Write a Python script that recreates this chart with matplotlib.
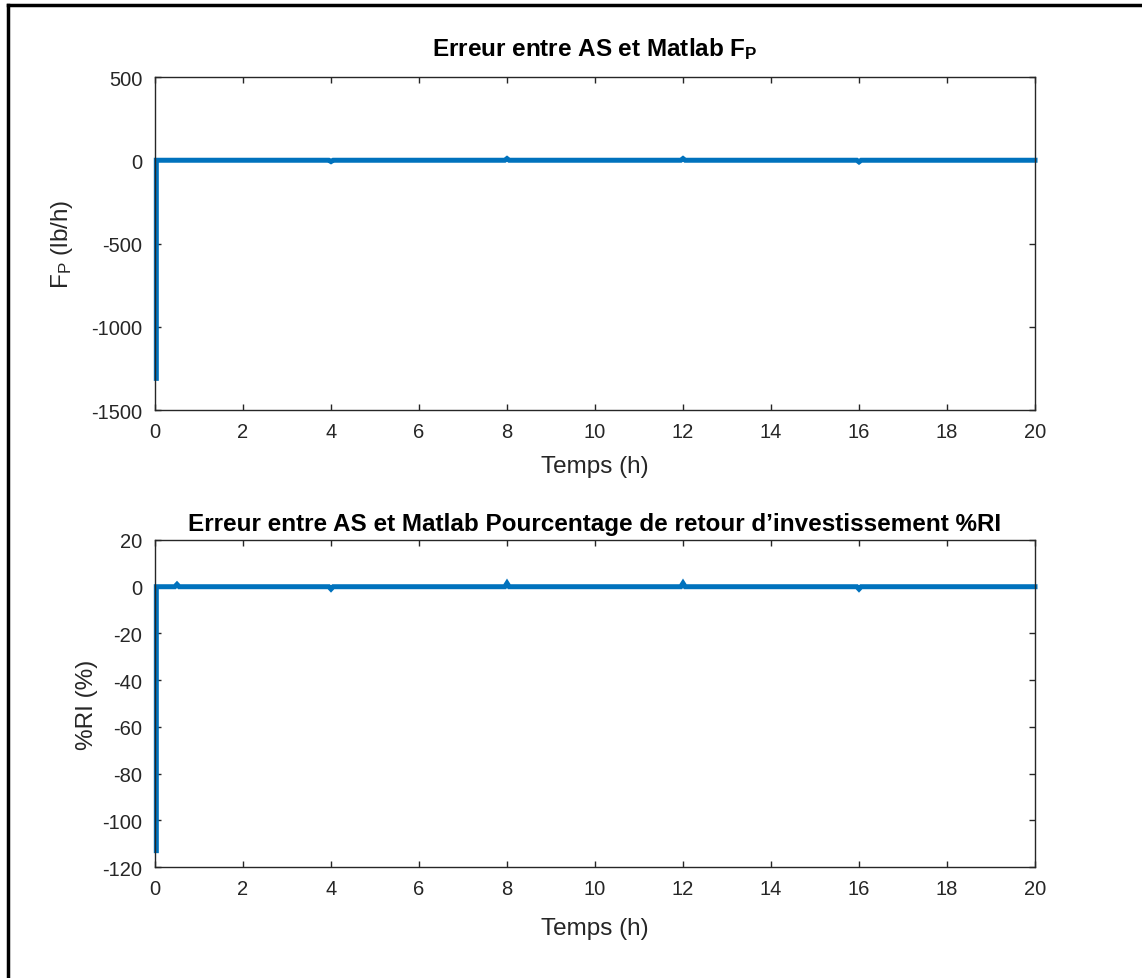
import matplotlib
matplotlib.use('Agg')
from matplotlib import pyplot as plt
from matplotlib.lines import Line2D

plt.rcParams['font.family'] = ['Liberation Sans', 'DejaVu Sans']
plt.rcParams['mathtext.fontset'] = 'custom'
plt.rcParams['mathtext.rm'] = 'Liberation Sans'
plt.rcParams['mathtext.it'] = 'Liberation Sans'
plt.rcParams['mathtext.bf'] = 'Liberation Sans:bold'
plt.rcParams['axes.unicode_minus'] = False

# erreur sur F_P (lb/h)
time_fp = [0.03, 0.03, 3.95, 4, 4.05, 7.95, 8, 8.05, 11.95, 12, 12.05, 15.95, 16, 16.05, 20]
err_fp = [-1310, 0, 0, -8, 0, 0, 10, 0, 0, 10, 0, 0, -10, 0, 0]

# erreur sur %RI (%)
time_ri = [0.03, 0.03, 0.45, 0.5, 0.55, 3.95, 4, 4.05, 7.95, 8, 8.05, 11.95, 12, 12.05, 15.95, 16, 16.05, 20]
err_ri = [-113, 0, 0, 1, 0, 0, -1, 0, 0, 1.5, 0, 0, 1.5, 0, 0, -1, 0, 0]

fp_ticks = [500, 0, -500, -1000, -1500]
ri_ticks = [20, 0, -20, -40, -60, -80, -100, -120]
x_ticks = [0, 2, 4, 6, 8, 10, 12, 14, 16, 18, 20]

blue = (0, 0.447, 0.741)
gray = (0.15, 0.15, 0.15)

W, H = 1142, 979
fig = plt.figure(figsize=(W / 100, H / 100), dpi=100)
ax1 = fig.add_axes([155 / W, 1 - 411 / H, 880 / W, 333 / H])
ax2 = fig.add_axes([155 / W, 1 - 868 / H, 880 / W, 327 / H])


def style(ax, xpad):
    for s in ax.spines.values():
        s.set_color(gray)
        s.set_linewidth(1.0)
    ax.tick_params(direction='in', length=4, width=1, colors=gray, labelsize=14.5,
                   top=True, right=True, pad=9)
    ax.set_xlim(0, 20)
    ax.set_xticks(x_ticks)
    ax.set_xlabel('Temps (h)', fontsize=17.5, color=gray, labelpad=xpad)


ax1.plot(time_fp, err_fp, color=blue, linewidth=3.6, solid_joinstyle='miter', clip_on=False)
style(ax1, 10)
ax1.set_ylim(-1500, 500)
ax1.set_yticks(fp_ticks)
ax1.set_title(r'Erreur entre AS et Matlab $\mathbf{F_P}$', fontsize=17.5, fontweight='bold', pad=16)
ax1.set_ylabel(r'$\mathrm{F_P}$ (lb/h)', fontsize=17.5, color=gray)
ax1.yaxis.set_label_coords(-0.091, 0.5)

ax2.plot(time_ri, err_ri, color=blue, linewidth=3.6, solid_joinstyle='miter', clip_on=False)
style(ax2, 13)
ax2.set_ylim(-120, 20)
ax2.set_yticks(ri_ticks)
ax2.set_title('Erreur entre AS et Matlab Pourcentage de retour d\u2019investissement %RI',
              fontsize=17.5, fontweight='bold', pad=7)
ax2.set_ylabel('%RI (%)', fontsize=17.5, color=gray)
ax2.yaxis.set_label_coords(-0.065, 0.5)

# cadre de la capture (haut et gauche)
fig.add_artist(Line2D([8 / W, 1], [1 - 6 / H, 1 - 6 / H], color='black', linewidth=2.5))
fig.add_artist(Line2D([8 / W, 8 / W], [0, 1 - 6 / H], color='black', linewidth=2.5))

fig.savefig('out.png', dpi=100, facecolor='white')
